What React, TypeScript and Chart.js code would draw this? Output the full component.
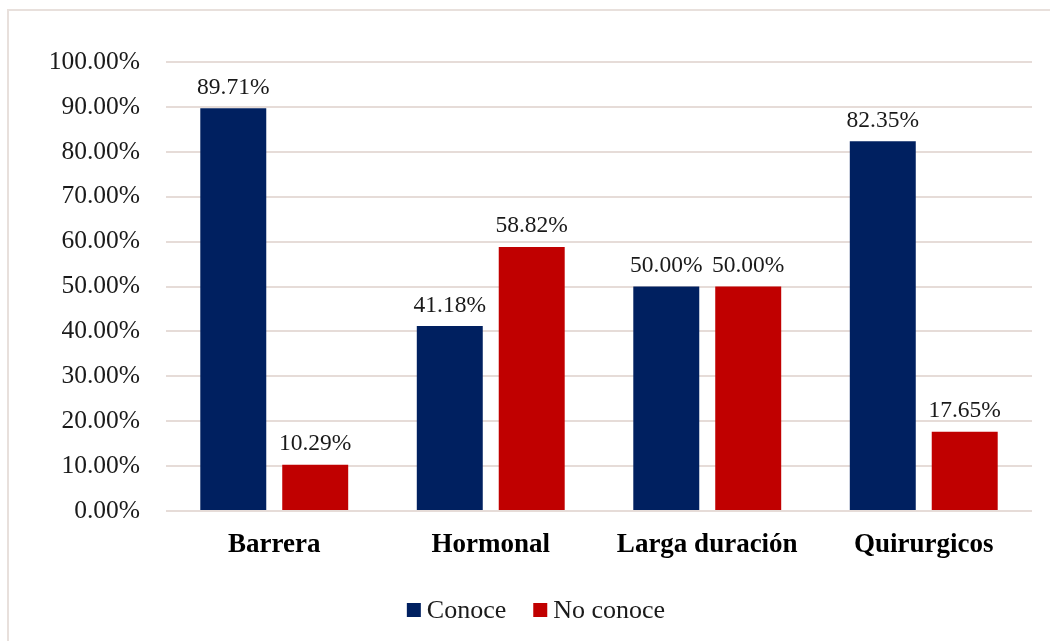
import React, { useEffect, useRef } from "react";
import { Chart, registerables } from "chart.js";

Chart.register(...registerables);

const categories = ["Barrera", "Hormonal", "Larga duración", "Quirurgicos"];
const conoce = [89.71, 41.18, 50.0, 82.35];
const noConoce = [10.29, 58.82, 50.0, 17.65];
const yTicks = [0, 10, 20, 30, 40, 50, 60, 70, 80, 90, 100];

const FONT = "'Liberation Serif', 'Times New Roman', serif";

const dataLabels = {
  id: "dataLabels",
  afterDatasetsDraw(chart: any) {
    const ctx = chart.ctx;
    ctx.save();
    ctx.font = `23.5px ${FONT}`;
    ctx.fillStyle = "#1a1a1a";
    ctx.textAlign = "center";
    ctx.textBaseline = "bottom";
    chart.data.datasets.forEach((ds: any, di: number) => {
      const meta = chart.getDatasetMeta(di);
      meta.data.forEach((el: any, i: number) => {
        const v = ds.data[i] as number;
        ctx.fillText(v.toFixed(2) + "%", el.x, el.y - 9);
      });
    });
    ctx.restore();
  },
};

const customLegend = {
  id: "customLegend",
  afterDraw(chart: any) {
    const ctx = chart.ctx;
    ctx.save();
    ctx.font = `26px ${FONT}`;
    ctx.textBaseline = "middle";
    ctx.textAlign = "left";
    const box = 14;
    const gap = 6;
    const spacing = 27;
    const items = chart.data.datasets.map((ds: any) => ({
      label: ds.label,
      color: ds.backgroundColor,
      w: ctx.measureText(ds.label).width,
    }));
    const total =
      items.reduce((a: number, it: any) => a + box + gap + it.w, 0) +
      spacing * (items.length - 1);
    let x = 536 - total / 2;
    const cy = 610;
    items.forEach((it: any) => {
      ctx.fillStyle = it.color;
      ctx.fillRect(x, cy - box / 2, box, box);
      x += box + gap;
      ctx.fillStyle = "#1a1a1a";
      ctx.fillText(it.label, x, cy + 1);
      x += it.w + spacing;
    });
    ctx.restore();
  },
};

export default function App() {
  const ref = useRef<HTMLCanvasElement>(null);
  useEffect(() => {
    if (!ref.current) return;
    const chart = new Chart(ref.current, {
      type: "bar",
      data: {
        labels: categories,
        datasets: [
          { label: "Conoce", data: conoce, backgroundColor: "#002060" },
          { label: "No conoce", data: noConoce, backgroundColor: "#C00000" },
        ],
      },
      options: {
        animation: false,
        responsive: false,
        maintainAspectRatio: false,
        layout: { padding: { left: 0, right: 18, top: 62, bottom: 0 } },
        datasets: { bar: { categoryPercentage: 0.757, barPercentage: 0.805 } },
        plugins: {
          legend: { display: false },
          tooltip: { enabled: false },
        },
        scales: {
          x: {
            grid: { display: false },
            border: { display: false },
            ticks: {
              font: { family: FONT, size: 27, weight: "bold" },
              color: "#000",
              padding: 10,
            },
            afterFit: (s: any) => {
              s.height = 130;
            },
          },
          y: {
            min: 0,
            max: 100,
            afterBuildTicks: (s: any) => {
              s.ticks = yTicks.map((v) => ({ value: v }));
            },
            grid: { color: "#E6DCD8", lineWidth: 2, drawTicks: false },
            border: { display: false },
            ticks: {
              font: { family: FONT, size: 25.5 },
              color: "#1a1a1a",
              padding: 26,
              callback: (v: any) => Number(v).toFixed(2) + "%",
            },
            afterFit: (s: any) => {
              s.width = 166;
            },
          },
        },
      },
      plugins: [dataLabels, customLegend],
    });
    return () => chart.destroy();
  }, []);
  return (
    <div
      style={{
        position: "fixed",
        left: 0,
        top: 0,
        width: 1050,
        height: 641,
        background: "#fff",
        overflow: "hidden",
      }}
    >
      <div
        style={{
          position: "absolute",
          left: 7,
          top: 9,
          width: 1100,
          height: 700,
          border: "2px solid #E8E0DC",
          boxSizing: "border-box",
        }}
      />
      <canvas
        ref={ref}
        width={1050}
        height={641}
        style={{ position: "absolute", left: 0, top: 0 }}
      />
    </div>
  );
}
